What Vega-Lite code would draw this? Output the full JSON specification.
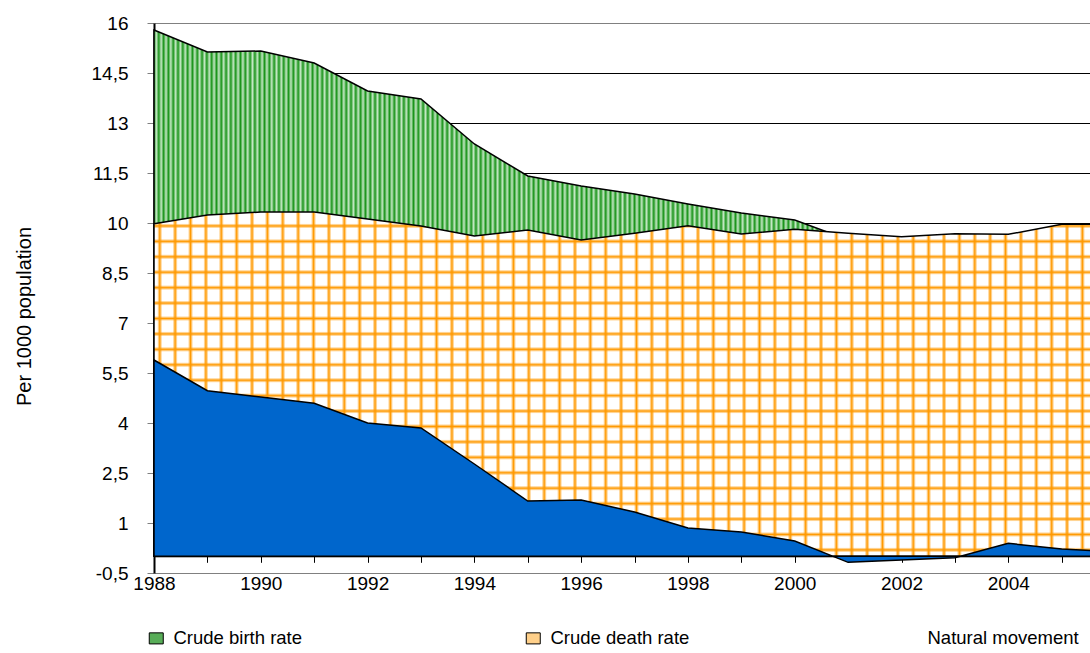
{
 "$schema": "https://vega.github.io/schema/vega-lite/v6.json",
 "width": 936,
 "height": 550,
 "autosize": {"type": "none"},
 "padding": {"left": 154, "top": 23, "right": 0, "bottom": 80},
 "background": "white",
 "config": {
  "font": "Liberation Sans",
  "view": {"stroke": null},
  "axis": {"labelColor": "black", "titleColor": "black"}
 },
 "data": {"values": [
  {"year": 1988, "series": "Crude birth rate", "value": 15.79},
  {"year": 1989, "series": "Crude birth rate", "value": 15.13},
  {"year": 1990, "series": "Crude birth rate", "value": 15.16},
  {"year": 1991, "series": "Crude birth rate", "value": 14.8},
  {"year": 1992, "series": "Crude birth rate", "value": 13.96},
  {"year": 1993, "series": "Crude birth rate", "value": 13.72},
  {"year": 1994, "series": "Crude birth rate", "value": 12.37},
  {"year": 1995, "series": "Crude birth rate", "value": 11.41},
  {"year": 1996, "series": "Crude birth rate", "value": 11.11},
  {"year": 1997, "series": "Crude birth rate", "value": 10.87},
  {"year": 1998, "series": "Crude birth rate", "value": 10.57},
  {"year": 1999, "series": "Crude birth rate", "value": 10.3},
  {"year": 2000, "series": "Crude birth rate", "value": 10.09},
  {"year": 2001, "series": "Crude birth rate", "value": 9.5},
  {"year": 2002, "series": "Crude birth rate", "value": 9.3},
  {"year": 2003, "series": "Crude birth rate", "value": 9.4},
  {"year": 2004, "series": "Crude birth rate", "value": 9.4},
  {"year": 2005, "series": "Crude birth rate", "value": 9.6},
  {"year": 2006, "series": "Crude birth rate", "value": 9.6},
  {"year": 1988, "series": "Crude death rate", "value": 9.98},
  {"year": 1989, "series": "Crude death rate", "value": 10.24},
  {"year": 1990, "series": "Crude death rate", "value": 10.33},
  {"year": 1991, "series": "Crude death rate", "value": 10.33},
  {"year": 1992, "series": "Crude death rate", "value": 10.12},
  {"year": 1993, "series": "Crude death rate", "value": 9.91},
  {"year": 1994, "series": "Crude death rate", "value": 9.61},
  {"year": 1995, "series": "Crude death rate", "value": 9.79},
  {"year": 1996, "series": "Crude death rate", "value": 9.49},
  {"year": 1997, "series": "Crude death rate", "value": 9.69},
  {"year": 1998, "series": "Crude death rate", "value": 9.92},
  {"year": 1999, "series": "Crude death rate", "value": 9.67},
  {"year": 2000, "series": "Crude death rate", "value": 9.81},
  {"year": 2001, "series": "Crude death rate", "value": 9.69},
  {"year": 2002, "series": "Crude death rate", "value": 9.59},
  {"year": 2003, "series": "Crude death rate", "value": 9.68},
  {"year": 2004, "series": "Crude death rate", "value": 9.66},
  {"year": 2005, "series": "Crude death rate", "value": 9.96},
  {"year": 2006, "series": "Crude death rate", "value": 9.96},
  {"year": 1988, "series": "Natural movement", "value": 5.89},
  {"year": 1989, "series": "Natural movement", "value": 4.97},
  {"year": 1990, "series": "Natural movement", "value": 4.78},
  {"year": 1991, "series": "Natural movement", "value": 4.59},
  {"year": 1992, "series": "Natural movement", "value": 4.0},
  {"year": 1993, "series": "Natural movement", "value": 3.85},
  {"year": 1994, "series": "Natural movement", "value": 2.77},
  {"year": 1995, "series": "Natural movement", "value": 1.66},
  {"year": 1996, "series": "Natural movement", "value": 1.69},
  {"year": 1997, "series": "Natural movement", "value": 1.33},
  {"year": 1998, "series": "Natural movement", "value": 0.85},
  {"year": 1999, "series": "Natural movement", "value": 0.73},
  {"year": 2000, "series": "Natural movement", "value": 0.46},
  {"year": 2001, "series": "Natural movement", "value": -0.18},
  {"year": 2002, "series": "Natural movement", "value": -0.11},
  {"year": 2003, "series": "Natural movement", "value": -0.04},
  {"year": 2004, "series": "Natural movement", "value": 0.39},
  {"year": 2005, "series": "Natural movement", "value": 0.22},
  {"year": 2006, "series": "Natural movement", "value": 0.13}
 ]},
 "encoding": {
  "x": {
   "field": "year", "type": "quantitative",
   "scale": {"domain": [1988, 2005.53], "nice": false, "zero": false},
   "axis": {
    "values": [1988, 1989, 1990, 1991, 1992, 1993, 1994, 1995, 1996, 1997, 1998, 1999, 2000, 2001, 2002, 2003, 2004, 2005],
    "labelExpr": "datum.value % 2 === 0 ? toString(datum.value) : ''",
    "offset": -16.7,
    "domainColor": "black", "domainWidth": 1,
    "tickColor": "black", "tickSize": 6, "tickWidth": 1,
    "labelFontSize": 19, "labelColor": "black", "labelPadding": 12, "labelDx": -6,
    "labelFlush": false, "labelOverlap": false, "labelBaseline": "top",
    "grid": false, "title": null
   }
  },
  "y": {
   "field": "value", "type": "quantitative",
   "scale": {"domain": [-0.5, 16], "nice": false, "zero": false},
   "axis": {
    "values": [-0.5, 1, 2.5, 4, 5.5, 7, 8.5, 10, 11.5, 13, 14.5, 16],
    "labelExpr": "replace(toString(datum.value), '.', ',')",
    "labelFontSize": 19, "labelColor": "black", "labelPadding": 19, "labelOverlap": false,
    "tickSize": 7, "tickColor": "#808080", "tickWidth": 1,
    "domainColor": "black", "domainWidth": 2,
    "grid": true,
    "gridColor": {"condition": {"test": "datum.value == 16 || datum.value == -0.5", "value": "#808080"}, "value": "black"},
    "gridWidth": 1,
    "title": "Per 1000 population",
    "titleFontSize": 20, "titleFontWeight": "normal", "titleColor": "black",
    "titleAngle": -90, "titleX": -124, "titleY": 293, "titleAlign": "center", "titleBaseline": "alphabetic"
   }
  }
 },
 "layer": [
  {
   "transform": [{"filter": "datum.series === 'Crude birth rate'"}],
   "mark": {"type": "area", "stroke": "black", "strokeWidth": 1.5, "opacity": 1,
    "fill": {"gradient": "linear", "x1": 0, "y1": 0, "x2": 1, "y2": 0, "stops": [
{"offset":0,"color":"#1a941a"},{"offset":0.0025,"color":"#c4e8c4"},{"offset":0.005,"color":"#1a941a"},{"offset":0.0075,"color":"#c4e8c4"},
{"offset":0.01,"color":"#1a941a"},{"offset":0.0125,"color":"#c4e8c4"},{"offset":0.015,"color":"#1a941a"},{"offset":0.0175,"color":"#c4e8c4"},
{"offset":0.02,"color":"#1a941a"},{"offset":0.0225,"color":"#c4e8c4"},{"offset":0.025,"color":"#1a941a"},{"offset":0.0275,"color":"#c4e8c4"},
{"offset":0.03,"color":"#1a941a"},{"offset":0.0325,"color":"#c4e8c4"},{"offset":0.035,"color":"#1a941a"},{"offset":0.0375,"color":"#c4e8c4"},
{"offset":0.04,"color":"#1a941a"},{"offset":0.0425,"color":"#c4e8c4"},{"offset":0.045,"color":"#1a941a"},{"offset":0.0475,"color":"#c4e8c4"},
{"offset":0.05,"color":"#1a941a"},{"offset":0.0525,"color":"#c4e8c4"},{"offset":0.055,"color":"#1a941a"},{"offset":0.0575,"color":"#c4e8c4"},
{"offset":0.06,"color":"#1a941a"},{"offset":0.0625,"color":"#c4e8c4"},{"offset":0.065,"color":"#1a941a"},{"offset":0.0675,"color":"#c4e8c4"},
{"offset":0.07,"color":"#1a941a"},{"offset":0.0725,"color":"#c4e8c4"},{"offset":0.075,"color":"#1a941a"},{"offset":0.0775,"color":"#c4e8c4"},
{"offset":0.08,"color":"#1a941a"},{"offset":0.0825,"color":"#c4e8c4"},{"offset":0.085,"color":"#1a941a"},{"offset":0.0875,"color":"#c4e8c4"},
{"offset":0.09,"color":"#1a941a"},{"offset":0.0925,"color":"#c4e8c4"},{"offset":0.095,"color":"#1a941a"},{"offset":0.0975,"color":"#c4e8c4"},
{"offset":0.1,"color":"#1a941a"},{"offset":0.1025,"color":"#c4e8c4"},{"offset":0.105,"color":"#1a941a"},{"offset":0.1075,"color":"#c4e8c4"},
{"offset":0.11,"color":"#1a941a"},{"offset":0.1125,"color":"#c4e8c4"},{"offset":0.115,"color":"#1a941a"},{"offset":0.1175,"color":"#c4e8c4"},
{"offset":0.12,"color":"#1a941a"},{"offset":0.1225,"color":"#c4e8c4"},{"offset":0.125,"color":"#1a941a"},{"offset":0.1275,"color":"#c4e8c4"},
{"offset":0.13,"color":"#1a941a"},{"offset":0.1325,"color":"#c4e8c4"},{"offset":0.135,"color":"#1a941a"},{"offset":0.1375,"color":"#c4e8c4"},
{"offset":0.14,"color":"#1a941a"},{"offset":0.1425,"color":"#c4e8c4"},{"offset":0.145,"color":"#1a941a"},{"offset":0.1475,"color":"#c4e8c4"},
{"offset":0.15,"color":"#1a941a"},{"offset":0.1525,"color":"#c4e8c4"},{"offset":0.155,"color":"#1a941a"},{"offset":0.1575,"color":"#c4e8c4"},
{"offset":0.16,"color":"#1a941a"},{"offset":0.1625,"color":"#c4e8c4"},{"offset":0.165,"color":"#1a941a"},{"offset":0.1675,"color":"#c4e8c4"},
{"offset":0.17,"color":"#1a941a"},{"offset":0.1725,"color":"#c4e8c4"},{"offset":0.175,"color":"#1a941a"},{"offset":0.1775,"color":"#c4e8c4"},
{"offset":0.18,"color":"#1a941a"},{"offset":0.1825,"color":"#c4e8c4"},{"offset":0.185,"color":"#1a941a"},{"offset":0.1875,"color":"#c4e8c4"},
{"offset":0.19,"color":"#1a941a"},{"offset":0.1925,"color":"#c4e8c4"},{"offset":0.195,"color":"#1a941a"},{"offset":0.1975,"color":"#c4e8c4"},
{"offset":0.2,"color":"#1a941a"},{"offset":0.2025,"color":"#c4e8c4"},{"offset":0.205,"color":"#1a941a"},{"offset":0.2075,"color":"#c4e8c4"},
{"offset":0.21,"color":"#1a941a"},{"offset":0.2125,"color":"#c4e8c4"},{"offset":0.215,"color":"#1a941a"},{"offset":0.2175,"color":"#c4e8c4"},
{"offset":0.22,"color":"#1a941a"},{"offset":0.2225,"color":"#c4e8c4"},{"offset":0.225,"color":"#1a941a"},{"offset":0.2275,"color":"#c4e8c4"},
{"offset":0.23,"color":"#1a941a"},{"offset":0.2325,"color":"#c4e8c4"},{"offset":0.235,"color":"#1a941a"},{"offset":0.2375,"color":"#c4e8c4"},
{"offset":0.24,"color":"#1a941a"},{"offset":0.2425,"color":"#c4e8c4"},{"offset":0.245,"color":"#1a941a"},{"offset":0.2475,"color":"#c4e8c4"},
{"offset":0.25,"color":"#1a941a"},{"offset":0.2525,"color":"#c4e8c4"},{"offset":0.255,"color":"#1a941a"},{"offset":0.2575,"color":"#c4e8c4"},
{"offset":0.26,"color":"#1a941a"},{"offset":0.2625,"color":"#c4e8c4"},{"offset":0.265,"color":"#1a941a"},{"offset":0.2675,"color":"#c4e8c4"},
{"offset":0.27,"color":"#1a941a"},{"offset":0.2725,"color":"#c4e8c4"},{"offset":0.275,"color":"#1a941a"},{"offset":0.2775,"color":"#c4e8c4"},
{"offset":0.28,"color":"#1a941a"},{"offset":0.2825,"color":"#c4e8c4"},{"offset":0.285,"color":"#1a941a"},{"offset":0.2875,"color":"#c4e8c4"},
{"offset":0.29,"color":"#1a941a"},{"offset":0.2925,"color":"#c4e8c4"},{"offset":0.295,"color":"#1a941a"},{"offset":0.2975,"color":"#c4e8c4"},
{"offset":0.3,"color":"#1a941a"},{"offset":0.3025,"color":"#c4e8c4"},{"offset":0.305,"color":"#1a941a"},{"offset":0.3075,"color":"#c4e8c4"},
{"offset":0.31,"color":"#1a941a"},{"offset":0.3125,"color":"#c4e8c4"},{"offset":0.315,"color":"#1a941a"},{"offset":0.3175,"color":"#c4e8c4"},
{"offset":0.32,"color":"#1a941a"},{"offset":0.3225,"color":"#c4e8c4"},{"offset":0.325,"color":"#1a941a"},{"offset":0.3275,"color":"#c4e8c4"},
{"offset":0.33,"color":"#1a941a"},{"offset":0.3325,"color":"#c4e8c4"},{"offset":0.335,"color":"#1a941a"},{"offset":0.3375,"color":"#c4e8c4"},
{"offset":0.34,"color":"#1a941a"},{"offset":0.3425,"color":"#c4e8c4"},{"offset":0.345,"color":"#1a941a"},{"offset":0.3475,"color":"#c4e8c4"},
{"offset":0.35,"color":"#1a941a"},{"offset":0.3525,"color":"#c4e8c4"},{"offset":0.355,"color":"#1a941a"},{"offset":0.3575,"color":"#c4e8c4"},
{"offset":0.36,"color":"#1a941a"},{"offset":0.3625,"color":"#c4e8c4"},{"offset":0.365,"color":"#1a941a"},{"offset":0.3675,"color":"#c4e8c4"},
{"offset":0.37,"color":"#1a941a"},{"offset":0.3725,"color":"#c4e8c4"},{"offset":0.375,"color":"#1a941a"},{"offset":0.3775,"color":"#c4e8c4"},
{"offset":0.38,"color":"#1a941a"},{"offset":0.3825,"color":"#c4e8c4"},{"offset":0.385,"color":"#1a941a"},{"offset":0.3875,"color":"#c4e8c4"},
{"offset":0.39,"color":"#1a941a"},{"offset":0.3925,"color":"#c4e8c4"},{"offset":0.395,"color":"#1a941a"},{"offset":0.3975,"color":"#c4e8c4"},
{"offset":0.4,"color":"#1a941a"},{"offset":0.4025,"color":"#c4e8c4"},{"offset":0.405,"color":"#1a941a"},{"offset":0.4075,"color":"#c4e8c4"},
{"offset":0.41,"color":"#1a941a"},{"offset":0.4125,"color":"#c4e8c4"},{"offset":0.415,"color":"#1a941a"},{"offset":0.4175,"color":"#c4e8c4"},
{"offset":0.42,"color":"#1a941a"},{"offset":0.4225,"color":"#c4e8c4"},{"offset":0.425,"color":"#1a941a"},{"offset":0.4275,"color":"#c4e8c4"},
{"offset":0.43,"color":"#1a941a"},{"offset":0.4325,"color":"#c4e8c4"},{"offset":0.435,"color":"#1a941a"},{"offset":0.4375,"color":"#c4e8c4"},
{"offset":0.44,"color":"#1a941a"},{"offset":0.4425,"color":"#c4e8c4"},{"offset":0.445,"color":"#1a941a"},{"offset":0.4475,"color":"#c4e8c4"},
{"offset":0.45,"color":"#1a941a"},{"offset":0.4525,"color":"#c4e8c4"},{"offset":0.455,"color":"#1a941a"},{"offset":0.4575,"color":"#c4e8c4"},
{"offset":0.46,"color":"#1a941a"},{"offset":0.4625,"color":"#c4e8c4"},{"offset":0.465,"color":"#1a941a"},{"offset":0.4675,"color":"#c4e8c4"},
{"offset":0.47,"color":"#1a941a"},{"offset":0.4725,"color":"#c4e8c4"},{"offset":0.475,"color":"#1a941a"},{"offset":0.4775,"color":"#c4e8c4"},
{"offset":0.48,"color":"#1a941a"},{"offset":0.4825,"color":"#c4e8c4"},{"offset":0.485,"color":"#1a941a"},{"offset":0.4875,"color":"#c4e8c4"},
{"offset":0.49,"color":"#1a941a"},{"offset":0.4925,"color":"#c4e8c4"},{"offset":0.495,"color":"#1a941a"},{"offset":0.4975,"color":"#c4e8c4"},
{"offset":0.5,"color":"#1a941a"},{"offset":0.5025,"color":"#c4e8c4"},{"offset":0.505,"color":"#1a941a"},{"offset":0.5075,"color":"#c4e8c4"},
{"offset":0.51,"color":"#1a941a"},{"offset":0.5125,"color":"#c4e8c4"},{"offset":0.515,"color":"#1a941a"},{"offset":0.5175,"color":"#c4e8c4"},
{"offset":0.52,"color":"#1a941a"},{"offset":0.5225,"color":"#c4e8c4"},{"offset":0.525,"color":"#1a941a"},{"offset":0.5275,"color":"#c4e8c4"},
{"offset":0.53,"color":"#1a941a"},{"offset":0.5325,"color":"#c4e8c4"},{"offset":0.535,"color":"#1a941a"},{"offset":0.5375,"color":"#c4e8c4"},
{"offset":0.54,"color":"#1a941a"},{"offset":0.5425,"color":"#c4e8c4"},{"offset":0.545,"color":"#1a941a"},{"offset":0.5475,"color":"#c4e8c4"},
{"offset":0.55,"color":"#1a941a"},{"offset":0.5525,"color":"#c4e8c4"},{"offset":0.555,"color":"#1a941a"},{"offset":0.5575,"color":"#c4e8c4"},
{"offset":0.56,"color":"#1a941a"},{"offset":0.5625,"color":"#c4e8c4"},{"offset":0.565,"color":"#1a941a"},{"offset":0.5675,"color":"#c4e8c4"},
{"offset":0.57,"color":"#1a941a"},{"offset":0.5725,"color":"#c4e8c4"},{"offset":0.575,"color":"#1a941a"},{"offset":0.5775,"color":"#c4e8c4"},
{"offset":0.58,"color":"#1a941a"},{"offset":0.5825,"color":"#c4e8c4"},{"offset":0.585,"color":"#1a941a"},{"offset":0.5875,"color":"#c4e8c4"},
{"offset":0.59,"color":"#1a941a"},{"offset":0.5925,"color":"#c4e8c4"},{"offset":0.595,"color":"#1a941a"},{"offset":0.5975,"color":"#c4e8c4"},
{"offset":0.6,"color":"#1a941a"},{"offset":0.6025,"color":"#c4e8c4"},{"offset":0.605,"color":"#1a941a"},{"offset":0.6075,"color":"#c4e8c4"},
{"offset":0.61,"color":"#1a941a"},{"offset":0.6125,"color":"#c4e8c4"},{"offset":0.615,"color":"#1a941a"},{"offset":0.6175,"color":"#c4e8c4"},
{"offset":0.62,"color":"#1a941a"},{"offset":0.6225,"color":"#c4e8c4"},{"offset":0.625,"color":"#1a941a"},{"offset":0.6275,"color":"#c4e8c4"},
{"offset":0.63,"color":"#1a941a"},{"offset":0.6325,"color":"#c4e8c4"},{"offset":0.635,"color":"#1a941a"},{"offset":0.6375,"color":"#c4e8c4"},
{"offset":0.64,"color":"#1a941a"},{"offset":0.6425,"color":"#c4e8c4"},{"offset":0.645,"color":"#1a941a"},{"offset":0.6475,"color":"#c4e8c4"},
{"offset":0.65,"color":"#1a941a"},{"offset":0.6525,"color":"#c4e8c4"},{"offset":0.655,"color":"#1a941a"},{"offset":0.6575,"color":"#c4e8c4"},
{"offset":0.66,"color":"#1a941a"},{"offset":0.6625,"color":"#c4e8c4"},{"offset":0.665,"color":"#1a941a"},{"offset":0.6675,"color":"#c4e8c4"},
{"offset":0.67,"color":"#1a941a"},{"offset":0.6725,"color":"#c4e8c4"},{"offset":0.675,"color":"#1a941a"},{"offset":0.6775,"color":"#c4e8c4"},
{"offset":0.68,"color":"#1a941a"},{"offset":0.6825,"color":"#c4e8c4"},{"offset":0.685,"color":"#1a941a"},{"offset":0.6875,"color":"#c4e8c4"},
{"offset":0.69,"color":"#1a941a"},{"offset":0.6925,"color":"#c4e8c4"},{"offset":0.695,"color":"#1a941a"},{"offset":0.6975,"color":"#c4e8c4"},
{"offset":0.7,"color":"#1a941a"}
    ]}
   },
   "encoding": {"y2": {"datum": 0}}
  },
  {
   "transform": [{"filter": "datum.series === 'Crude death rate'"}],
   "mark": {"type": "area", "opacity": 1,
    "fill": {"gradient": "linear", "x1": 0, "y1": 0, "x2": 1, "y2": 0, "stops": [
{"offset":0.0034,"color":"#fff"},{"offset":0.006,"color":"#f90"},{"offset":0.0086,"color":"#fff"},
{"offset":0.0194,"color":"#fff"},{"offset":0.022,"color":"#f90"},{"offset":0.0246,"color":"#fff"},
{"offset":0.0354,"color":"#fff"},{"offset":0.038,"color":"#f90"},{"offset":0.0406,"color":"#fff"},
{"offset":0.0514,"color":"#fff"},{"offset":0.054,"color":"#f90"},{"offset":0.0566,"color":"#fff"},
{"offset":0.0674,"color":"#fff"},{"offset":0.07,"color":"#f90"},{"offset":0.0726,"color":"#fff"},
{"offset":0.0834,"color":"#fff"},{"offset":0.086,"color":"#f90"},{"offset":0.0886,"color":"#fff"},
{"offset":0.0994,"color":"#fff"},{"offset":0.102,"color":"#f90"},{"offset":0.1046,"color":"#fff"},
{"offset":0.1154,"color":"#fff"},{"offset":0.118,"color":"#f90"},{"offset":0.1206,"color":"#fff"},
{"offset":0.1314,"color":"#fff"},{"offset":0.134,"color":"#f90"},{"offset":0.1366,"color":"#fff"},
{"offset":0.1474,"color":"#fff"},{"offset":0.15,"color":"#f90"},{"offset":0.1526,"color":"#fff"},
{"offset":0.1634,"color":"#fff"},{"offset":0.166,"color":"#f90"},{"offset":0.1686,"color":"#fff"},
{"offset":0.1794,"color":"#fff"},{"offset":0.182,"color":"#f90"},{"offset":0.1846,"color":"#fff"},
{"offset":0.1954,"color":"#fff"},{"offset":0.198,"color":"#f90"},{"offset":0.2006,"color":"#fff"},
{"offset":0.2114,"color":"#fff"},{"offset":0.214,"color":"#f90"},{"offset":0.2166,"color":"#fff"},
{"offset":0.2274,"color":"#fff"},{"offset":0.23,"color":"#f90"},{"offset":0.2326,"color":"#fff"},
{"offset":0.2434,"color":"#fff"},{"offset":0.246,"color":"#f90"},{"offset":0.2486,"color":"#fff"},
{"offset":0.2594,"color":"#fff"},{"offset":0.262,"color":"#f90"},{"offset":0.2646,"color":"#fff"},
{"offset":0.2754,"color":"#fff"},{"offset":0.278,"color":"#f90"},{"offset":0.2806,"color":"#fff"},
{"offset":0.2914,"color":"#fff"},{"offset":0.294,"color":"#f90"},{"offset":0.2966,"color":"#fff"},
{"offset":0.3074,"color":"#fff"},{"offset":0.31,"color":"#f90"},{"offset":0.3126,"color":"#fff"},
{"offset":0.3234,"color":"#fff"},{"offset":0.326,"color":"#f90"},{"offset":0.3286,"color":"#fff"},
{"offset":0.3394,"color":"#fff"},{"offset":0.342,"color":"#f90"},{"offset":0.3446,"color":"#fff"},
{"offset":0.3554,"color":"#fff"},{"offset":0.358,"color":"#f90"},{"offset":0.3606,"color":"#fff"},
{"offset":0.3714,"color":"#fff"},{"offset":0.374,"color":"#f90"},{"offset":0.3766,"color":"#fff"},
{"offset":0.3874,"color":"#fff"},{"offset":0.39,"color":"#f90"},{"offset":0.3926,"color":"#fff"},
{"offset":0.4034,"color":"#fff"},{"offset":0.406,"color":"#f90"},{"offset":0.4086,"color":"#fff"},
{"offset":0.4194,"color":"#fff"},{"offset":0.422,"color":"#f90"},{"offset":0.4246,"color":"#fff"},
{"offset":0.4354,"color":"#fff"},{"offset":0.438,"color":"#f90"},{"offset":0.4406,"color":"#fff"},
{"offset":0.4514,"color":"#fff"},{"offset":0.454,"color":"#f90"},{"offset":0.4566,"color":"#fff"},
{"offset":0.4674,"color":"#fff"},{"offset":0.47,"color":"#f90"},{"offset":0.4726,"color":"#fff"},
{"offset":0.4834,"color":"#fff"},{"offset":0.486,"color":"#f90"},{"offset":0.4886,"color":"#fff"},
{"offset":0.4994,"color":"#fff"},{"offset":0.502,"color":"#f90"},{"offset":0.5046,"color":"#fff"},
{"offset":0.5154,"color":"#fff"},{"offset":0.518,"color":"#f90"},{"offset":0.5206,"color":"#fff"},
{"offset":0.5314,"color":"#fff"},{"offset":0.534,"color":"#f90"},{"offset":0.5366,"color":"#fff"},
{"offset":0.5474,"color":"#fff"},{"offset":0.55,"color":"#f90"},{"offset":0.5526,"color":"#fff"},
{"offset":0.5634,"color":"#fff"},{"offset":0.566,"color":"#f90"},{"offset":0.5686,"color":"#fff"},
{"offset":0.5794,"color":"#fff"},{"offset":0.582,"color":"#f90"},{"offset":0.5846,"color":"#fff"},
{"offset":0.5954,"color":"#fff"},{"offset":0.598,"color":"#f90"},{"offset":0.6006,"color":"#fff"},
{"offset":0.6114,"color":"#fff"},{"offset":0.614,"color":"#f90"},{"offset":0.6166,"color":"#fff"},
{"offset":0.6274,"color":"#fff"},{"offset":0.63,"color":"#f90"},{"offset":0.6326,"color":"#fff"},
{"offset":0.6434,"color":"#fff"},{"offset":0.646,"color":"#f90"},{"offset":0.6486,"color":"#fff"},
{"offset":0.6594,"color":"#fff"},{"offset":0.662,"color":"#f90"},{"offset":0.6646,"color":"#fff"},
{"offset":0.6754,"color":"#fff"},{"offset":0.678,"color":"#f90"},{"offset":0.6806,"color":"#fff"},
{"offset":0.6914,"color":"#fff"},{"offset":0.694,"color":"#f90"},{"offset":0.6966,"color":"#fff"},
{"offset":0.7074,"color":"#fff"},{"offset":0.71,"color":"#f90"},{"offset":0.7126,"color":"#fff"},
{"offset":0.7234,"color":"#fff"},{"offset":0.726,"color":"#f90"},{"offset":0.7286,"color":"#fff"},
{"offset":0.7394,"color":"#fff"},{"offset":0.742,"color":"#f90"},{"offset":0.7446,"color":"#fff"},
{"offset":0.7554,"color":"#fff"},{"offset":0.758,"color":"#f90"},{"offset":0.7606,"color":"#fff"},
{"offset":0.7714,"color":"#fff"},{"offset":0.774,"color":"#f90"},{"offset":0.7766,"color":"#fff"},
{"offset":0.7874,"color":"#fff"},{"offset":0.79,"color":"#f90"},{"offset":0.7926,"color":"#fff"},
{"offset":0.8034,"color":"#fff"},{"offset":0.806,"color":"#f90"},{"offset":0.8086,"color":"#fff"},
{"offset":0.8194,"color":"#fff"},{"offset":0.822,"color":"#f90"},{"offset":0.8246,"color":"#fff"},
{"offset":0.8354,"color":"#fff"},{"offset":0.838,"color":"#f90"},{"offset":0.8406,"color":"#fff"},
{"offset":0.8514,"color":"#fff"},{"offset":0.854,"color":"#f90"},{"offset":0.8566,"color":"#fff"},
{"offset":0.8674,"color":"#fff"},{"offset":0.87,"color":"#f90"},{"offset":0.8726,"color":"#fff"},
{"offset":0.8834,"color":"#fff"},{"offset":0.886,"color":"#f90"},{"offset":0.8886,"color":"#fff"},
{"offset":0.8994,"color":"#fff"},{"offset":0.902,"color":"#f90"},{"offset":0.9046,"color":"#fff"},
{"offset":0.9154,"color":"#fff"},{"offset":0.918,"color":"#f90"},{"offset":0.9206,"color":"#fff"},
{"offset":0.9314,"color":"#fff"},{"offset":0.934,"color":"#f90"},{"offset":0.9366,"color":"#fff"},
{"offset":0.9474,"color":"#fff"},{"offset":0.95,"color":"#f90"},{"offset":0.9526,"color":"#fff"},
{"offset":0.9634,"color":"#fff"},{"offset":0.966,"color":"#f90"},{"offset":0.9686,"color":"#fff"}
    ]}
   },
   "encoding": {"y2": {"datum": 0}}
  },
  {
   "transform": [{"filter": "datum.series === 'Crude death rate'"}],
   "mark": {"type": "area", "stroke": "black", "strokeWidth": 1.5, "opacity": 1,
    "fill": {"gradient": "linear", "x1": 0, "y1": 0, "x2": 0, "y2": 1, "stops": [
{"offset":0.0332,"color":"rgba(255,153,0,0)"},{"offset":0.0405,"color":"#f90"},{"offset":0.0478,"color":"rgba(255,153,0,0)"},
{"offset":0.078,"color":"rgba(255,153,0,0)"},{"offset":0.0853,"color":"#f90"},{"offset":0.0926,"color":"rgba(255,153,0,0)"},
{"offset":0.1228,"color":"rgba(255,153,0,0)"},{"offset":0.1301,"color":"#f90"},{"offset":0.1374,"color":"rgba(255,153,0,0)"},
{"offset":0.1676,"color":"rgba(255,153,0,0)"},{"offset":0.1749,"color":"#f90"},{"offset":0.1822,"color":"rgba(255,153,0,0)"},
{"offset":0.2124,"color":"rgba(255,153,0,0)"},{"offset":0.2197,"color":"#f90"},{"offset":0.227,"color":"rgba(255,153,0,0)"},
{"offset":0.2572,"color":"rgba(255,153,0,0)"},{"offset":0.2645,"color":"#f90"},{"offset":0.2718,"color":"rgba(255,153,0,0)"},
{"offset":0.302,"color":"rgba(255,153,0,0)"},{"offset":0.3093,"color":"#f90"},{"offset":0.3166,"color":"rgba(255,153,0,0)"},
{"offset":0.3468,"color":"rgba(255,153,0,0)"},{"offset":0.3541,"color":"#f90"},{"offset":0.3614,"color":"rgba(255,153,0,0)"},
{"offset":0.3916,"color":"rgba(255,153,0,0)"},{"offset":0.3989,"color":"#f90"},{"offset":0.4062,"color":"rgba(255,153,0,0)"},
{"offset":0.4364,"color":"rgba(255,153,0,0)"},{"offset":0.4437,"color":"#f90"},{"offset":0.451,"color":"rgba(255,153,0,0)"},
{"offset":0.4812,"color":"rgba(255,153,0,0)"},{"offset":0.4885,"color":"#f90"},{"offset":0.4958,"color":"rgba(255,153,0,0)"},
{"offset":0.526,"color":"rgba(255,153,0,0)"},{"offset":0.5333,"color":"#f90"},{"offset":0.5406,"color":"rgba(255,153,0,0)"},
{"offset":0.5708,"color":"rgba(255,153,0,0)"},{"offset":0.5781,"color":"#f90"},{"offset":0.5854,"color":"rgba(255,153,0,0)"},
{"offset":0.6156,"color":"rgba(255,153,0,0)"},{"offset":0.6229,"color":"#f90"},{"offset":0.6302,"color":"rgba(255,153,0,0)"},
{"offset":0.6604,"color":"rgba(255,153,0,0)"},{"offset":0.6677,"color":"#f90"},{"offset":0.675,"color":"rgba(255,153,0,0)"},
{"offset":0.7052,"color":"rgba(255,153,0,0)"},{"offset":0.7125,"color":"#f90"},{"offset":0.7198,"color":"rgba(255,153,0,0)"},
{"offset":0.75,"color":"rgba(255,153,0,0)"},{"offset":0.7573,"color":"#f90"},{"offset":0.7646,"color":"rgba(255,153,0,0)"},
{"offset":0.7948,"color":"rgba(255,153,0,0)"},{"offset":0.8021,"color":"#f90"},{"offset":0.8094,"color":"rgba(255,153,0,0)"},
{"offset":0.8396,"color":"rgba(255,153,0,0)"},{"offset":0.8469,"color":"#f90"},{"offset":0.8542,"color":"rgba(255,153,0,0)"},
{"offset":0.8844,"color":"rgba(255,153,0,0)"},{"offset":0.8917,"color":"#f90"},{"offset":0.899,"color":"rgba(255,153,0,0)"},
{"offset":0.9292,"color":"rgba(255,153,0,0)"},{"offset":0.9365,"color":"#f90"},{"offset":0.9438,"color":"rgba(255,153,0,0)"},
{"offset":0.974,"color":"rgba(255,153,0,0)"},{"offset":0.9813,"color":"#f90"},{"offset":0.9886,"color":"rgba(255,153,0,0)"}
    ]}
   },
   "encoding": {"y2": {"datum": 0}}
  },
  {
   "transform": [{"filter": "datum.series === 'Natural movement'"}],
   "mark": {"type": "area", "fill": "#0066cc", "stroke": "black", "strokeWidth": 1.5, "opacity": 1},
   "encoding": {"y2": {"datum": 0}}
  },
  {
   "mark": {"type": "point", "filled": true, "opacity": 0, "size": 1},
   "encoding": {
    "color": {
     "field": "series", "type": "nominal",
     "scale": {"domain": ["Crude birth rate", "Crude death rate", "Natural movement"], "range": ["#58ad58", "#ffd08a", "transparent"]},
     "legend": {
      "orient": "none", "legendX": -7, "legendY": 606,
      "direction": "horizontal", "columns": 3, "gridAlign": "all", "columnPadding": 199,
      "title": null, "padding": 0,
      "labelFontSize": 18.5, "labelFont": "Liberation Sans", "labelColor": "black", "labelOffset": 8, "labelLimit": 300,
      "symbolType": "M-1,-0.79H1V0.79H-1Z", "symbolSize": 196, "symbolStrokeWidth": 1, "symbolOpacity": 1
     }
    },
    "stroke": {
     "field": "series", "type": "nominal",
     "scale": {"domain": ["Crude birth rate", "Crude death rate", "Natural movement"], "range": ["black", "black", "transparent"]},
     "legend": {
      "orient": "none", "legendX": -7, "legendY": 606,
      "direction": "horizontal", "columns": 3, "gridAlign": "all", "columnPadding": 199,
      "title": null, "padding": 0,
      "labelFontSize": 18.5, "labelFont": "Liberation Sans", "labelColor": "black", "labelOffset": 8, "labelLimit": 300,
      "symbolType": "M-1,-0.79H1V0.79H-1Z", "symbolSize": 196, "symbolStrokeWidth": 1, "symbolOpacity": 1
     }
    }
   }
  }
 ]
}
